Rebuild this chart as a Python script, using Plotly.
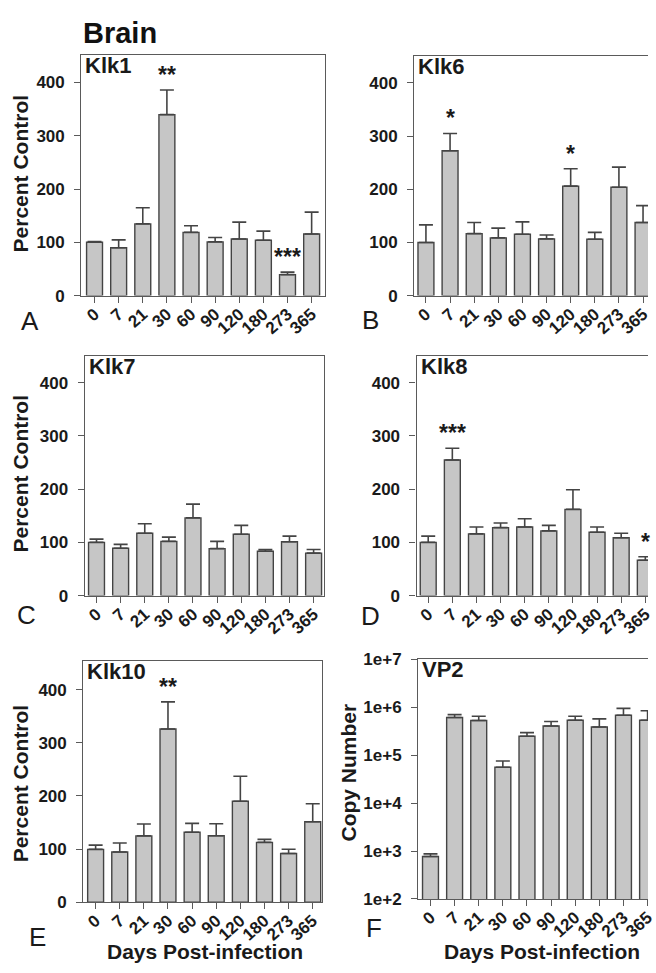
import plotly.graph_objects as go

DAYS = ["0", "7", "21", "30", "60", "90", "120", "180", "273", "365"]

KLK1 = [100, 89.7, 134.6, 339.8, 118.6, 100.8, 106.3, 103.8, 39.3, 115.5]
KLK1_ERR = [1.5, 14.8, 30.4, 46.2, 12.4, 8.2, 31.7, 17.2, 4.7, 41.2]
KLK6 = [100, 272.4, 116.6, 108.6, 115.3, 106.7, 206, 106, 203.7, 137.4]
KLK6_ERR = [33, 32.6, 20.8, 18.4, 23.4, 7.4, 32.7, 13, 38, 31.9]
KLK7 = [100, 89, 117.2, 101.8, 146, 88.3, 115.3, 83.4, 101.2, 79.8]
KLK7_ERR = [6, 7.3, 17.8, 8, 25.8, 13.5, 16.6, 3.1, 10.5, 6.7]
KLK8 = [100, 254.6, 116, 127.6, 128.8, 121.5, 162, 119, 108.6, 66.3]
KLK8_ERR = [11.7, 22.1, 12.8, 8.6, 15.4, 10.4, 36.8, 9.8, 8.6, 6.7]
KLK10 = [99.5, 94.5, 124.8, 326, 131.7, 125, 190, 112.6, 91.7, 151.4]
KLK10_ERR = [8, 17, 22.5, 51, 16.6, 22.7, 47, 5.6, 8, 33.8]
VP2 = [771, 611e3, 530e3, 56.1e3, 249e3, 406e3, 538e3, 387e3, 682e3, 538e3]
VP2_ERR = [102, 92e3, 120e3, 19.5e3, 47e3, 100e3, 112e3, 187e3, 266e3, 311e3]

SIG = {
    "Klk1": [("30", "**"), ("273", "***")],
    "Klk6": [("7", "*"), ("120", "*")],
    "Klk7": [],
    "Klk8": [("7", "***"), ("365", "*")],
    "Klk10": [("30", "**")],
    "VP2": [],
}

LOG_TICKVALS = [1e2, 1e3, 1e4, 1e5, 1e6, 1e7]
LOG_TICKTEXT = ["1e+2", "1e+3", "1e+4", "1e+5", "1e+6", "1e+7"]

W, H = 656, 973
FONT = "Liberation Sans, Arial, Helvetica, sans-serif"
BAR_FILL = "#c6c6c6"
DARK = "#444444"
AX = "#5a5a5a"
TXT = "#1a1a1a"
SP = 24.42  # px per category

# name, values, errors, letter, x-left, x-right, y-top, y-bottom (px), first-bar center px, ymax, log, right-cut
PANELS = [
    ("Klk1", KLK1, KLK1_ERR, "A", 82.3, 329.0, 47.0, 292.3, 95.7, 451.5, False, False),
    ("Klk6", KLK6, KLK6_ERR, "B", 419.3, 656.0, 47.5, 292.3, 431.2, 451.5, False, True),
    ("Klk7", KLK7, KLK7_ERR, "C", 85.7, 328.3, 354.0, 598.3, 97.7, 449.7, False, False),
    ("Klk8", KLK8, KLK8_ERR, "D", 421.7, 656.0, 354.0, 598.3, 433.5, 449.7, False, True),
    ("Klk10", KLK10, KLK10_ERR, "E", 84.3, 326.0, 665.0, 911.0, 96.8, 454.0, False, False),
    ("VP2", VP2, VP2_ERR, "F", 423.3, 656.0, 663.3, 907.7, 435.8, 7, True, True),
]

LETTER_POS = {"A": (30, 318), "B": (375, 317), "C": (27, 618), "D": (375, 619),
              "E": (38, 946), "F": (379, 937)}

fig = go.Figure()
annotations = []
layout = {}

for i, (name, vals, errs, letter, xl, xr, yt, yb, c0, ymax, is_log, cut) in enumerate(PANELS, start=1):
    xa = "x" if i == 1 else f"x{i}"
    ya = "y" if i == 1 else f"y{i}"
    xkey = "xaxis" if i == 1 else f"xaxis{i}"
    ykey = "yaxis" if i == 1 else f"yaxis{i}"

    fig.add_trace(go.Bar(
        x=DAYS, y=vals, xaxis=xa, yaxis=ya, width=0.66,
        marker=dict(color=BAR_FILL, line=dict(color=DARK, width=1.4)),
        error_y=dict(type="data", array=errs, arrayminus=[0] * len(errs), symmetric=False,
                     color=DARK, thickness=1.6, width=7),
        showlegend=False, hoverinfo="skip",
    ))

    xrange = [(xl - c0) / SP, (xr - c0) / SP]
    layout[xkey] = dict(
        domain=[xl / W, xr / W], anchor=ya, type="category", range=xrange,
        showline=True, linecolor=AX, linewidth=1.2, mirror=True,
        ticks="outside", ticklen=6, tickwidth=1.2, tickcolor=AX,
        tickangle=-42, tickfont=dict(family=FONT, size=17, color=TXT, weight="bold"),
        ticklabelstandoff=-5,
        showgrid=False, zeroline=False, fixedrange=True,
    )
    ydom = [1 - yb / H, 1 - yt / H]
    if is_log:
        layout[ykey] = dict(
            domain=ydom, anchor=xa, type="log", range=[2, 7],
            tickvals=LOG_TICKVALS, ticktext=LOG_TICKTEXT,
        )
    else:
        layout[ykey] = dict(domain=ydom, anchor=xa, range=[0, ymax],
                            tickvals=[0, 100, 200, 300, 400])
    layout[ykey].update(
        showline=True, linecolor=AX, linewidth=1.2, mirror=(not cut),
        ticks="outside", ticklen=6, tickwidth=1.2, tickcolor=AX,
        tickfont=dict(family=FONT, size=17, color=TXT, weight="bold"),
        ticklabelstandoff=6,
        showgrid=False, zeroline=False, fixedrange=True,
    )

    # panel title
    annotations.append(dict(
        text=name, xref=f"{xa} domain", yref=f"{ya} domain", x=0, y=1,
        xanchor="left", yanchor="top", xshift=2, yshift=4, showarrow=False,
        font=dict(family=FONT, size=22, color=TXT, weight="bold"),
    ))
    # significance stars (x given as category index)
    for day, stars in SIG[name]:
        k = DAYS.index(day)
        annotations.append(dict(
            text=stars, xref=xa, yref=ya, x=k, y=vals[k] + errs[k],
            xanchor="center", yanchor="bottom", yshift=0, showarrow=False,
            font=dict(family=FONT, size=23, color=TXT, weight="bold"),
        ))
    # panel letter
    lx, ly = LETTER_POS[letter]
    annotations.append(dict(
        text=letter, xref="paper", yref="paper", x=lx / W, y=1 - ly / H,
        xanchor="center", yanchor="middle", showarrow=False,
        font=dict(family=FONT, size=26, color=TXT),
    ))

# axis titles
for txt, cx, cy in [("Percent Control", 21, 168), ("Percent Control", 21, 474),
                    ("Percent Control", 21, 790), ("Copy Number", 353, 779)]:
    annotations.append(dict(
        text=txt, xref="paper", yref="paper", x=cx / W, y=1 - cy / H,
        xanchor="center", yanchor="middle", textangle=-90, showarrow=False,
        font=dict(family=FONT, size=21, color=TXT, weight="bold"),
    ))
for cx in (208, 549):
    annotations.append(dict(
        text="Days Post-infection", xref="paper", yref="paper", x=cx / W, y=1 - 961 / H,
        xanchor="center", yanchor="middle", showarrow=False,
        font=dict(family=FONT, size=21, color=TXT, weight="bold"),
    ))
annotations.append(dict(
    text="Brain", xref="paper", yref="paper", x=82 / W, y=1 - 24 / H,
    xanchor="left", yanchor="middle", showarrow=False,
    font=dict(family=FONT, size=29, color="#111111", weight="bold"),
))

fig.update_layout(
    width=W, height=H, margin=dict(l=0, r=0, t=0, b=0),
    paper_bgcolor="white", plot_bgcolor="white",
    annotations=annotations, bargap=0.3, **layout,
)

fig.write_html("out.html", config={"displayModeBar": False},
               post_script="document.body.style.margin='0';document.body.style.overflow='hidden';")
